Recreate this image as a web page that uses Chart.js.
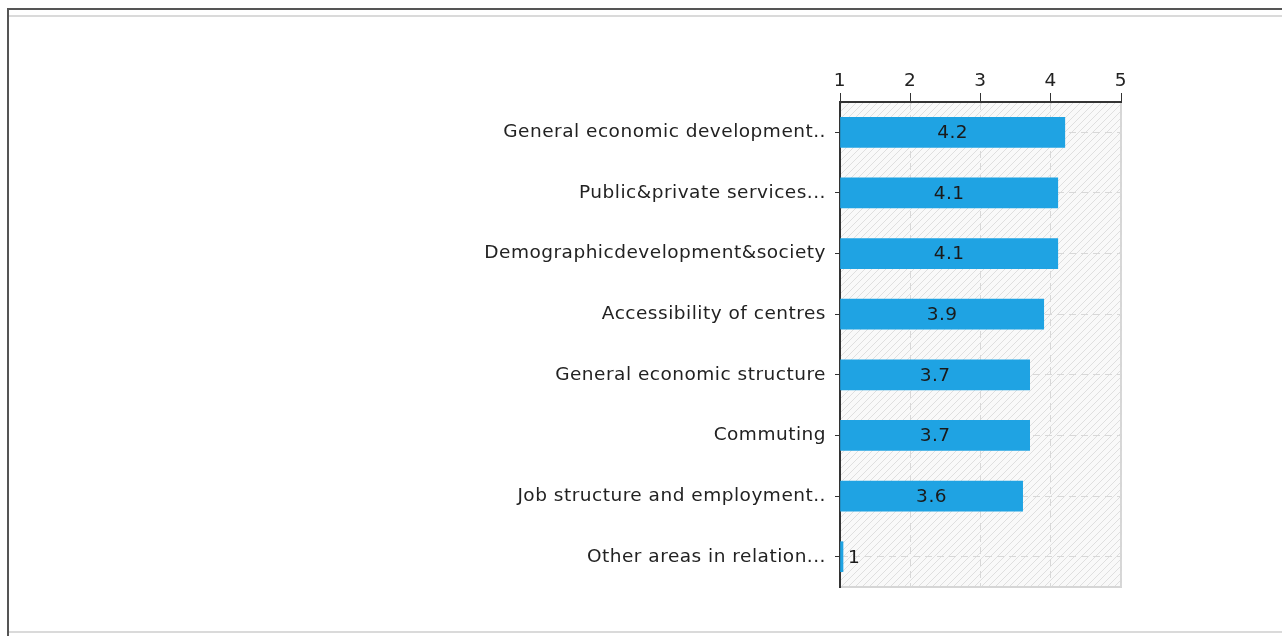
<!DOCTYPE html>
<html>
<head>
<meta charset="utf-8">
<script src="https://cdn.jsdelivr.net/npm/chart.js@4"></script>
<style>
  html, body { margin: 0; padding: 0; background: #fff; }
  #wrap { position: relative; width: 1282px; height: 636px; overflow: hidden; }
  #chart { position: absolute; left: 0; top: 0; }
  .frame-top { position: absolute; left: 7px; top: 8px; right: 0; height: 2px; background: #555; }
  .frame-left { position: absolute; left: 7px; top: 8px; width: 2px; bottom: 0; background: #555; }
  .rule-top { position: absolute; left: 9px; top: 15px; right: 0; height: 2px; background: #dadada; }
  .rule-bottom { position: absolute; left: 9px; top: 631px; right: 0; height: 2px; background: #dadada; }
</style>
</head>
<body>
<div id="wrap">
  <div class="frame-top"></div>
  <div class="frame-left"></div>
  <div class="rule-top"></div>
  <div class="rule-bottom"></div>
  <canvas id="chart" width="1282" height="636"></canvas>
</div>
<script>
const categories = [
  "General economic development..",
  "Public&private services...",
  "Demographicdevelopment&society",
  "Accessibility of centres",
  "General economic structure",
  "Commuting",
  "Job structure and employment..",
  "Other areas in relation..."
];
const scores = [4.2, 4.1, 4.1, 3.9, 3.7, 3.7, 3.6, 1];
const scaleTicks = [1, 2, 3, 4, 5];

const FONT = { family: "'DejaVu Sans', Verdana, sans-serif", size: 18.5 };
const SPACING = "0.5px";

// diagonal hatching behind the plot area
function hatchPattern(ctx) {
  const c = document.createElement("canvas");
  c.width = 7; c.height = 7;
  const p = c.getContext("2d");
  p.fillStyle = "#f9f9f9";
  p.fillRect(0, 0, 7, 7);
  p.strokeStyle = "#dfdfdf";
  p.lineWidth = 1;
  p.beginPath();
  p.moveTo(-1, 8); p.lineTo(8, -1);
  p.moveTo(-1, 1); p.lineTo(1, -1);
  p.moveTo(6, 8); p.lineTo(8, 6);
  p.stroke();
  return ctx.createPattern(c, "repeat");
}

const plotBackground = {
  id: "plotBackground",
  beforeDraw(chart) {
    const { ctx, chartArea: a } = chart;
    ctx.letterSpacing = SPACING;
    ctx.save();
    ctx.fillStyle = hatchPattern(ctx);
    ctx.fillRect(a.left, a.top, a.right - a.left, a.bottom - a.top);
    ctx.strokeStyle = "#d6d6d6";
    ctx.lineWidth = 2;
    ctx.beginPath();
    ctx.moveTo(a.right, a.top);
    ctx.lineTo(a.right, a.bottom);
    ctx.lineTo(a.left, a.bottom);
    ctx.stroke();
    ctx.restore();
  }
};

// value labels: centred in the bar, or just right of it when it is too short
const valueLabels = {
  id: "valueLabels",
  afterDatasetsDraw(chart) {
    const { ctx } = chart;
    const meta = chart.getDatasetMeta(0);
    ctx.save();
    ctx.font = FONT.size + "px " + FONT.family;
    ctx.fillStyle = "#1a1a1a";
    ctx.textBaseline = "middle";
    meta.data.forEach((bar, i) => {
      const text = String(scores[i]);
      const w = ctx.measureText(text).width;
      const left = Math.max(bar.base, chart.chartArea.left);
      if (bar.x - left > w + 8) {
        ctx.textAlign = "center";
        ctx.fillText(text, (bar.x + left) / 2, bar.y + 1);
      } else {
        ctx.textAlign = "left";
        ctx.fillText(text, bar.x + 5, bar.y + 1);
      }
    });
    ctx.restore();
  }
};

new Chart(document.getElementById("chart"), {
  type: "bar",
  data: {
    labels: categories,
    datasets: [{
      data: scores,
      base: 1,
      backgroundColor: "#1fa3e3",
      borderWidth: 0,
      barThickness: 30,
      minBarLength: 3
    }]
  },
  options: {
    indexAxis: "y",
    responsive: false,
    animation: false,
    layout: { padding: { left: 0, top: 0, right: 161, bottom: 49 } },
    plugins: {
      legend: { display: false },
      tooltip: { enabled: false }
    },
    scales: {
      x: {
        position: "top",
        min: 1,
        max: 5,
        afterBuildTicks: s => { s.ticks = scaleTicks.map(v => ({ value: v })); },
        afterFit: s => { s.height = 102; },
        ticks: { color: "#222", font: FONT, padding: 1 },
        grid: { color: "#d8d8d8", tickColor: "#333", tickLength: 9, lineWidth: 1 },
        border: { color: "#333", width: 2, dash: [7, 5] }
      },
      y: {
        afterFit: s => { s.width = 840; },
        ticks: { color: "#222", font: FONT, padding: 9 },
        grid: { offset: false, color: "#d8d8d8", tickColor: "#333", tickLength: 5 },
        border: { color: "#333", width: 2, dash: [7, 5] }
      }
    }
  },
  plugins: [plotBackground, valueLabels]
});
</script>
</body>
</html>
